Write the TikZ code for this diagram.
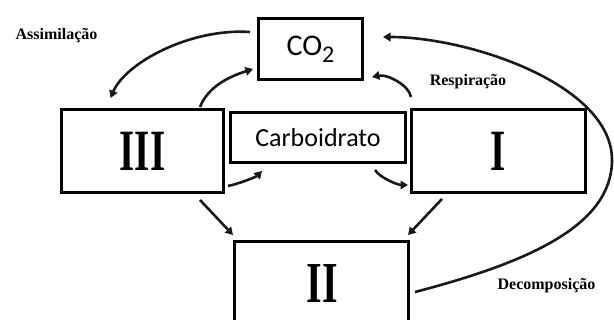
\documentclass[tikz,border=0pt]{standalone}
\usepackage{fontspec}
\usepackage{graphicx}
\setmainfont{Liberation Serif}
\newfontfamily\calibfont{Carlito}
\usetikzlibrary{arrows.meta}

\begin{document}
\begin{tikzpicture}[x=1pt,y=1pt,
  box/.style={draw=black, line width=3pt, fill=white, inner sep=0pt},
  arr/.style={line width=2.6pt, draw=black!90, -{Triangle[length=7.5pt,width=8.5pt]}},
  lbl/.style={font=\fontsize{16}{16}\selectfont\bfseries, inner sep=0pt},
  numeral/.style={font=\fontsize{39}{39}\selectfont\bfseries},
  sanslabel/.style={font=\calibfont\fontsize{26}{26}\selectfont}]
\clip (0,0) rectangle (614,320);

% boxes
\node[box, sanslabel, minimum width=104pt, minimum height=61pt]
  (co2) at (310.5,271) {\fontsize{30}{30}\selectfont CO\raisebox{-7pt}{\fontsize{24}{24}\selectfont 2}};
\node[box, numeral, minimum width=162pt, minimum height=83pt]
  (iii) at (142.5,169) {\scalebox{1}[1.5]{III}};
\node[box, sanslabel, minimum width=175pt, minimum height=50pt]
  (carb) at (318,182.5) {Carboidrato};
\node[box, numeral, minimum width=174pt, minimum height=83pt]
  (i) at (498.5,169) {\scalebox{1}[1.5]{I}};
\node[box, minimum width=174pt, minimum height=100pt]
  (ii) at (321.5,28.5) {};
\node[numeral, font=\fontsize{40}{40}\selectfont\bfseries]
  (iilabel) at (322.5,36.5) {\scalebox{1}[1.45]{II}};

% labels
\node[lbl] (assim) at (56.5,284) {Assimilação};
\node[lbl] (resp) at (468,238) {Respiração};
\node[lbl] (decomp) at (546.5,34) {Decomposição};

% assimilation and respiration of III
\draw[arr] ([shift={(-7,17)}]co2.west) .. controls +(-60,4) and +(15,35) .. ([shift={(-32,10)}]iii.north);
\draw[arr] ([shift={(57.5,1)}]iii.north) .. controls +(8,20) and +(-25,-8) .. ([shift={(-4,-20)}]co2.west);
% respiration of I
\draw[arr] ([shift={(-87.5,11)}]i.north) .. controls +(-2,12) and +(15,3) .. ([shift={(8,4)}]co2.south east);
% decomposition
\draw[arr] ([shift={(5,-0.5)}]ii.east) .. controls (530,58) and (612,95) .. (612,160)
  .. controls (612,235) and (470,283) .. ([shift={(19,12)}]co2.east);
% carbohydrate flow
\draw[arr] ([shift={(3,-35)}]iii.east) .. controls +(10,2) and +(-6,-6) .. ([shift={(-56,-7)}]carb.south);
\draw[arr] ([shift={(57,-6)}]carb.south) .. controls +(5,-8) and +(-10,0) .. ([shift={(-2,-34)}]i.west);
% towards II
\draw[arr] ([shift={(57.5,-6)}]iii.south) -- ([yshift=5pt]ii.north west);
\draw[arr] ([shift={(-56.5,-5)}]i.south) -- ([shift={(-2,5)}]ii.north east);
\end{tikzpicture}
\end{document}
